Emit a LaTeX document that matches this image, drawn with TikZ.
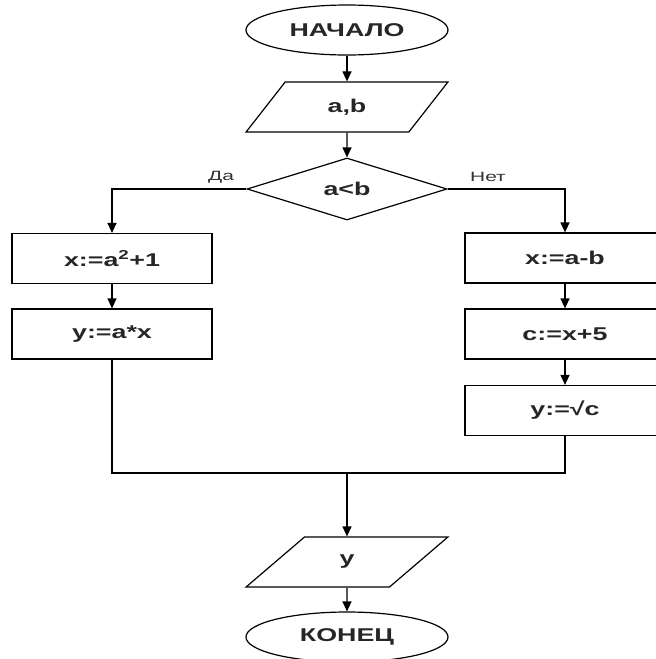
\documentclass[tikz,border=0pt]{standalone}
\usepackage{fontspec}
\setmainfont{Liberation Sans}
\newfontfamily\nodefont[FakeStretch=1.45]{Liberation Sans}
\newfontfamily\lblfont[FakeStretch=1.55]{Liberation Sans}
\usetikzlibrary{shapes.geometric,arrows.meta,calc}
\tikzset{
  base/.style={draw=black, line width=1.2pt, font=\nodefont\bfseries\fontsize{18.5}{20}\selectfont, inner sep=0pt, text=black!85},
  terminal/.style={base, ellipse, minimum width=202pt, minimum height=50pt},
  iobox/.style={base, trapezium, trapezium left angle=53, trapezium right angle=127, trapezium stretches=true, minimum width=202pt, minimum height=50pt},
  procbox/.style={base, rectangle, minimum width=200pt, minimum height=50pt},
  decision/.style={base, diamond, minimum width=200pt, minimum height=62pt},
  flow/.style={draw=black, line width=1.2pt, -{Triangle[length=10pt,width=9pt]}},
  plain/.style={draw=black, line width=1.2pt},
  lbl/.style={font=\lblfont\fontsize{13.5}{15}\selectfont, text=black!80, inner sep=0pt}
}
\begin{document}
\begin{tikzpicture}[x=1pt,y=-1pt]
\useasboundingbox (0,0) rectangle (656,659);
\clip (0,0) rectangle (656,659);
\node[terminal] (start) at (347,30) {НАЧАЛО};
\node[iobox] (in) at (347,107) {a,b};
\node[decision] (dec) at (347,189) {a<b};
\node[procbox] (l1) at (112,258.5) {x:=a\textsuperscript{2}+1};
\node[procbox] (l2) at (112,334) {y:=a*x};
\node[procbox] (r1) at (565,258) {x:=a-b};
\node[procbox] (r2) at (565,334) {c:=x+5};
\node[procbox] (r3) at (565,410.5) {y:=√c};
\coordinate (m) at (347,473);
\node[iobox] (out) at (347,562) {y};
\node[terminal] (end) at (347,637) {КОНЕЦ};
\node[lbl] (da) at (221,177) {Да};
\node[lbl] (net) at (488,177) {Нет};
\draw[flow] (start) -- (in);
\draw[flow] (in) -- (dec);
\draw[flow] (dec.west) -| (l1.north);
\draw[flow] (dec.east) -| (r1.north);
\draw[flow] (l1) -- (l2);
\draw[flow] (r1) -- (r2);
\draw[flow] (r2) -- (r3);
\draw[plain] (l2.south) |- (m) -| (r3.south);
\draw[flow] (m) -- (out);
\draw[flow] (out) -- (end);
\end{tikzpicture}
\end{document}
